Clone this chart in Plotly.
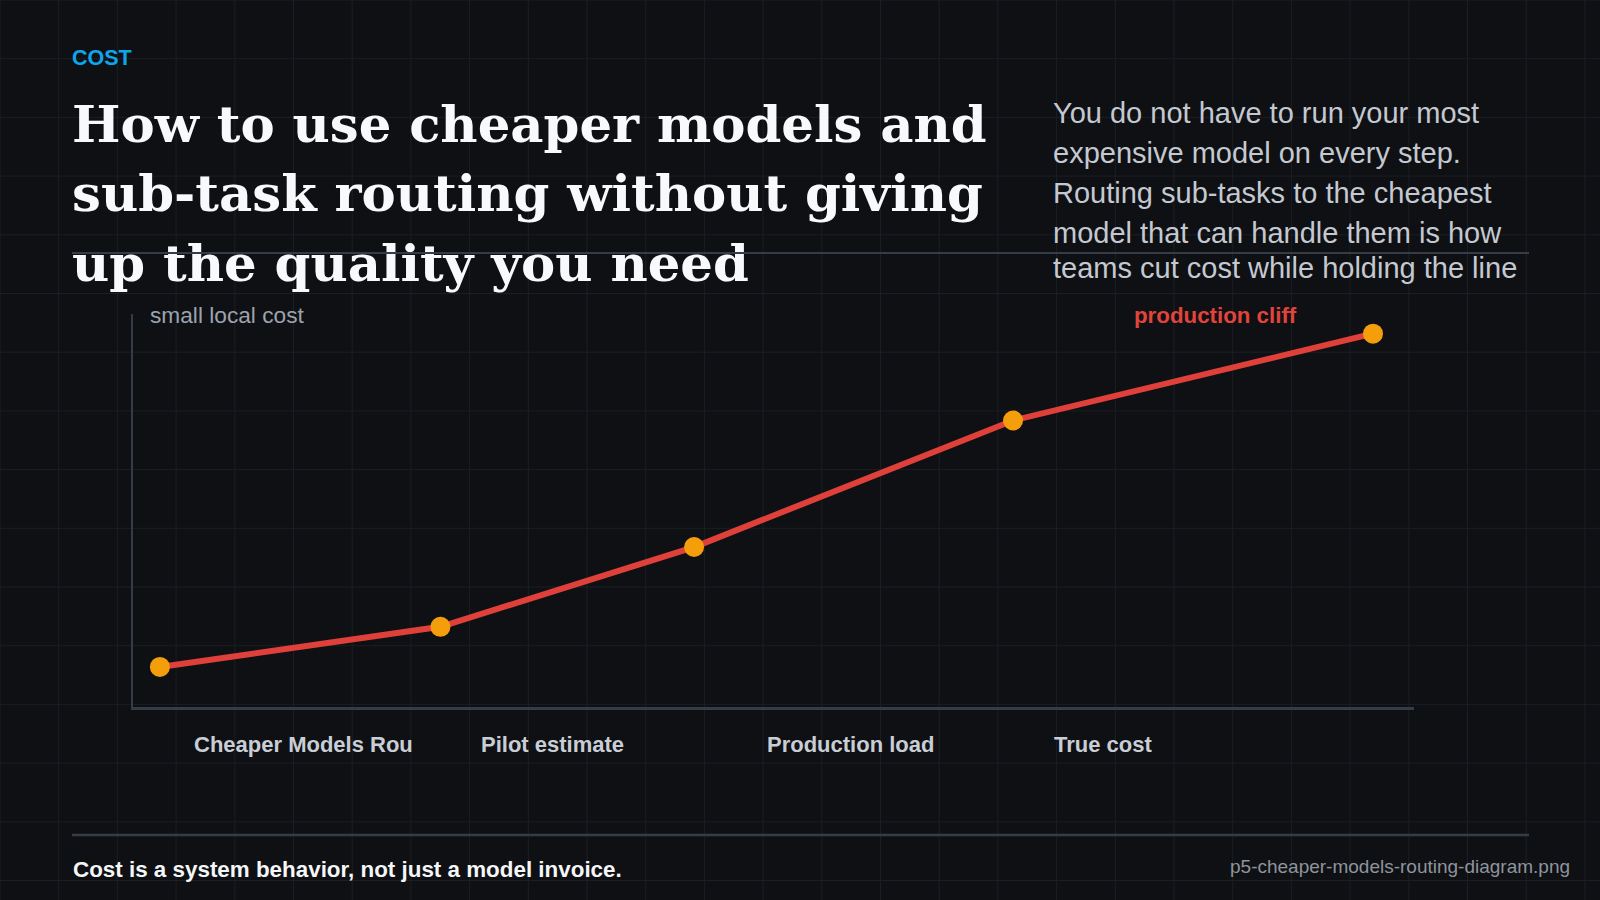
import plotly.graph_objects as go

# ---- data ----
stage_x = [2.1, 24.0, 43.8, 68.7, 96.8]
cost_y = [10.2, 20.4, 40.7, 72.9, 95.0]
x_labels = ["Cheaper Models Rou", "Pilot estimate", "Production load", "True cost"]
kicker = "COST"
title_lines = ["How to use cheaper models and",
               "sub-task routing without giving",
               "up the quality you need"]
sub_lines = ["You do not have to run your most",
             "expensive model on every step.",
             "Routing sub-tasks to the cheapest",
             "model that can handle them is how",
             "teams cut cost while holding the line"]
y_note = "small local cost"
peak_note = "production cliff"
footer_text = "Cost is a system behavior, not just a model invoice."
file_label = "p5-cheaper-models-routing-diagram.png"

W, H = 1600, 900
BG = "#0f1013"
GRID = "#1b1e24"
RULE = "#353c48"

def px(x):
    return x / W

def py(y):
    return 1 - y / H

fig = go.Figure()
fig.add_trace(go.Scatter(
    x=stage_x, y=cost_y, mode="lines+markers",
    line=dict(color="#e0403a", width=6),
    marker=dict(color="#f59e0b", size=20, line=dict(width=0)),
    hoverinfo="skip", showlegend=False,
))

shapes = []
# background grid
step = 58.7
k = 0
while k * step <= W:
    shapes.append(dict(type="line", xref="paper", yref="paper", layer="below",
                       x0=px(k * step), x1=px(k * step), y0=0, y1=1,
                       line=dict(color=GRID, width=1)))
    k += 1
k = 0
while k * step <= H:
    shapes.append(dict(type="line", xref="paper", yref="paper", layer="below",
                       x0=0, x1=1, y0=py(k * step), y1=py(k * step),
                       line=dict(color=GRID, width=1)))
    k += 1

# title lines as shape labels (so the divider can sit above them)
title_y = [120.5, 190.0, 259.5]
for t, yc in zip(title_lines, title_y):
    shapes.append(dict(type="rect", xref="paper", yref="paper", layer="below",
                       x0=px(69), x1=px(1000), y0=py(yc + 30), y1=py(yc - 30),
                       line=dict(width=0), fillcolor="rgba(0,0,0,0)",
                       label=dict(text=t, textposition="middle left", padding=0,
                                  font=dict(family="DejaVu Serif", size=51.3,
                                            color="#f8f9fb", weight="bold"))))

# divider + footer rule
shapes.append(dict(type="line", xref="paper", yref="paper", layer="above",
                   x0=px(72), x1=px(1529), y0=py(253), y1=py(253),
                   line=dict(color=RULE, width=2)))
shapes.append(dict(type="line", xref="paper", yref="paper", layer="above",
                   x0=px(72), x1=px(1529), y0=py(835), y1=py(835),
                   line=dict(color=RULE, width=2.5)))

ann = []
def add_text(text, x, y, size, color, bold=False, xanchor="left", family="Liberation Sans"):
    ann.append(dict(text=("<b>%s</b>" % text) if bold else text,
                    x=px(x), y=py(y), xref="paper", yref="paper",
                    xanchor=xanchor, yanchor="middle", showarrow=False,
                    font=dict(family=family, size=size, color=color)))

add_text(kicker, 70, 58, 21.5, "#0ea5e9", bold=True)
sub_y = [113, 153, 193, 233, 268]
for t, yc in zip(sub_lines, sub_y):
    add_text(t, 1051, yc, 29, "#c4c9d1")
add_text(y_note, 148, 315, 22.7, "#9ca3af")
add_text(peak_note, 1132, 315, 22.3, "#e0443c", bold=True)
for i, t in enumerate(x_labels):
    add_text(t, 192 + i * 286.5, 744, 22, "#c9ced6", bold=True)
add_text(footer_text, 71, 869, 22.4, "#f5f6f8", bold=True)
add_text(file_label, 1572, 866, 19, "#8e949d", xanchor="right")

fig.update_layout(
    width=W, height=H, margin=dict(l=0, r=0, t=0, b=0),
    paper_bgcolor=BG, plot_bgcolor="rgba(0,0,0,0)",
    shapes=shapes, annotations=ann, showlegend=False,
    xaxis=dict(domain=[px(133), px(1414)], range=[0, 100], showgrid=False,
               zeroline=False, showticklabels=False, ticks="",
               showline=True, linecolor=RULE, linewidth=2.5, fixedrange=True),
    yaxis=dict(domain=[py(707), py(314)], range=[0, 100], showgrid=False,
               zeroline=False, showticklabels=False, ticks="",
               showline=True, linecolor=RULE, linewidth=2, fixedrange=True),
)

fig.write_html("out.html")
